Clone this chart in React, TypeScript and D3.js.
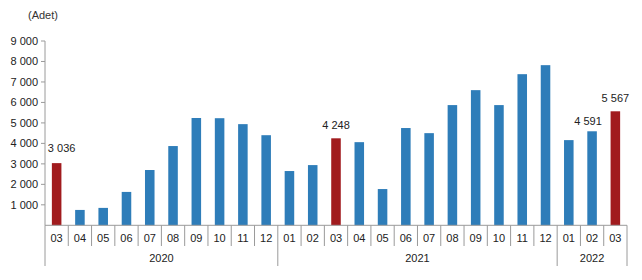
import React from "react";
import * as d3 from "d3";

const months = ["03","04","05","06","07","08","09","10","11","12","01","02","03","04","05","06","07","08","09","10","11","12","01","02","03"];
const values = [3036,750,850,1630,2700,3870,5240,5230,4940,4400,2650,2940,4248,4060,1770,4750,4500,5870,6600,5870,7380,7820,4160,4591,5567];
const highlighted = [0, 12, 24];
const labelled = [0, 12, 23, 24];
const years = [
  { label: "2020", start: 0, end: 10 },
  { label: "2021", start: 10, end: 22 },
  { label: "2022", start: 22, end: 25 },
];
const yTicks = [1000,2000,3000,4000,5000,6000,7000,8000,9000];

const W = 642, H = 280;
const left = 45, right = 627, top = 41, bottom = 225.3;
const labelShift: Record<number, [number, number]> = { 0: [5, -11], 12: [0, -9], 23: [-4, -6], 24: [0, -9] };

const fmt = (v: number) => {
  const s = String(v);
  return s.length > 3 ? s.slice(0, s.length - 3) + " " + s.slice(-3) : s;
};

export default function App() {
  const x = d3.scaleBand<number>().domain(d3.range(months.length)).range([left, right]).paddingInner(0.59).paddingOuter(0.295);
  const y = d3.scaleLinear().domain([0, 9000]).range([bottom, top]);
  const step = (right - left) / months.length;
  const edge = (i: number) => left + i * step;
  const font = "'Liberation Sans', Arial, sans-serif";
  const axisColor = "#9a9a9a";
  return (
    <svg width={W} height={H} style={{ position: "absolute", left: 0, top: 0, background: "#fff" }} fontFamily={font} fontSize={11}>
      <text x={28} y={19} fill="#333" fontSize={11}>(Adet)</text>
      <line x1={left} x2={left} y1={y(9000)} y2={bottom} stroke={axisColor} />
      {yTicks.map(t => (
        <g key={t}>
          <line x1={left - 4} x2={left} y1={y(t)} y2={y(t)} stroke={axisColor} />
          <text x={38} y={y(t)} dy="0.35em" textAnchor="end" fill="#222">{fmt(t)}</text>
        </g>
      ))}
      {values.map((v, i) => (
        <rect key={i} x={x(i)} y={y(v)} width={x.bandwidth()} height={bottom - y(v)}
          fill={highlighted.includes(i) ? "#a11b1e" : "#2e7db9"} />
      ))}
      {labelled.map(i => (
        <text key={i} x={(x(i) as number) + x.bandwidth() / 2 + labelShift[i][0]} y={y(values[i]) + labelShift[i][1]} textAnchor="middle" fill="#222">{fmt(values[i])}</text>
      ))}
      <line x1={left} x2={right} y1={bottom} y2={bottom} stroke={axisColor} />
      {d3.range(months.length + 1).map(i => {
        const isYear = years.some(g => g.start === i) || i === months.length;
        return <line key={i} x1={edge(i)} x2={edge(i)} y1={bottom} y2={isYear ? 266 : 246} stroke={axisColor} />;
      })}
      {months.map((m, i) => (
        <text key={i} x={(x(i) as number) + x.bandwidth() / 2} y={238} dy="0.35em" textAnchor="middle" fill="#222">{m}</text>
      ))}
      {years.map(g => (
        <text key={g.label} x={(edge(g.start) + edge(g.end)) / 2} y={258} dy="0.35em" textAnchor="middle" fill="#222">{g.label}</text>
      ))}
    </svg>
  );
}
